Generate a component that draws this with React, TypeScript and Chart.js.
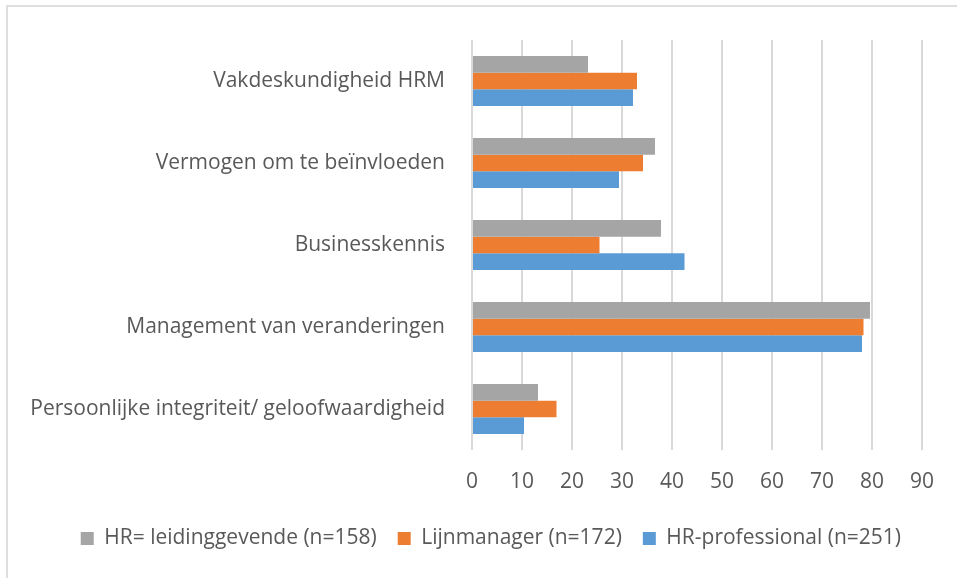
import React, { useEffect, useRef } from "react";
import { Chart, registerables } from "chart.js";

Chart.register(...registerables);

const categories = [
  "Vakdeskundigheid HRM",
  "Vermogen om te beïnvloeden",
  "Businesskennis",
  "Management van veranderingen",
  "Persoonlijke integriteit/ geloofwaardigheid",
];
const seriesNames = [
  "HR= leidinggevende (n=158)",
  "Lijnmanager (n=172)",
  "HR-professional (n=251)",
];
const hrLeidinggevende = [23.2, 36.6, 37.8, 79.6, 13.2];
const lijnmanager = [33.0, 34.2, 25.5, 78.3, 16.9];
const hrProfessional = [32.2, 29.4, 42.5, 78.0, 10.4];
const colors = ["#a5a5a5", "#ed7d31", "#5b9bd5"];
const axisMin = 0;
const axisMax = 90;
const axisStep = 10;

const FONT = "'Open Sans', Lato, sans-serif";

export default function App() {
  const ref = useRef<HTMLCanvasElement | null>(null);
  useEffect(() => {
    if (!ref.current) return;
    const values = [hrLeidinggevende, lijnmanager, hrProfessional];
    const chart = new Chart(ref.current, {
      type: "bar",
      data: {
        labels: categories,
        datasets: values.map((v, i) => ({
          label: seriesNames[i],
          data: v,
          backgroundColor: colors[i],
          borderWidth: 0,
          categoryPercentage: 0.61,
          barPercentage: 1,
        })),
      },
      options: {
        indexAxis: "y",
        animation: false,
        responsive: false,
        maintainAspectRatio: false,
        layout: { padding: { left: 10, right: 35, top: 40, bottom: 19 } },
        scales: {
          x: {
            min: axisMin,
            max: axisMax,
            ticks: {
              stepSize: axisStep,
              color: "#595959",
              font: { family: FONT, size: 21 },
              padding: 19,
            },
            grid: { color: "#d9d9d9", lineWidth: 2, drawTicks: false },
            border: { display: false },
            afterFit: (s: any) => {
              s.height = 57;
            },
          },
          y: {
            ticks: {
              color: "#595959",
              font: { family: FONT, size: 21 },
              padding: 19,
            },
            grid: { display: false },
            border: { display: false },
            afterFit: (s: any) => {
              s.width = 462;
            },
          },
        },
        plugins: {
          legend: {
            position: "bottom",
            align: "end",
            labels: {
              boxWidth: 13,
              boxHeight: 13,
              color: "#595959",
              font: { family: FONT, size: 21 },
              padding: 21,
            },
          },
          tooltip: { enabled: false },
        },
      },
    });
    return () => chart.destroy();
  }, []);
  return (
    <div style={{ position: "absolute", left: 0, top: 0, width: 957, height: 578, background: "#fff" }}>
      <div
        style={{
          position: "absolute",
          left: 6,
          top: 5,
          right: -10,
          bottom: -10,
          borderLeft: "2px solid #dedede",
          borderTop: "2px solid #dedede",
        }}
      />
      <canvas ref={ref} width={957} height={578} style={{ position: "absolute", left: 0, top: 0 }} />
    </div>
  );
}
